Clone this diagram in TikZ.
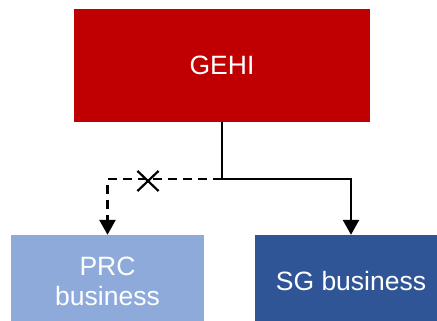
\documentclass[tikz,border=0pt]{standalone}
\usepackage{fontspec}
\setmainfont{Liberation Sans}
\usetikzlibrary{arrows.meta,shapes.misc}
\definecolor{gehired}{HTML}{C00000}
\definecolor{prcblue}{HTML}{8EAADB}
\definecolor{sgblue}{HTML}{2F5597}
\begin{document}
\begin{tikzpicture}[x=1pt,y=-1pt,
  box/.style={draw=none, inner sep=0pt, text=white, font=\fontsize{26.5}{30}\selectfont, align=center},
  conn/.style={line width=2.6pt, -{Triangle[width=16pt,length=15pt]}},
  dashconn/.style={conn, dash pattern=on 9pt off 6pt},
  crossmark/.style={cross out, draw, line width=2.2pt, inner sep=0pt, minimum width=19pt, minimum height=18pt}]
\useasboundingbox (0,0) rectangle (437,321);
\node[box, fill=gehired, minimum width=296pt, minimum height=113pt] (gehi) at (222,65.5) {GEHI};
\node[box, fill=prcblue, minimum width=193pt, minimum height=92pt] (prc) at (107.5,281) {PRC\\business};
\node[box, fill=sgblue, minimum width=192pt, minimum height=92pt] (sg) at (351,281) {SG business};
\coordinate (j) at (222,179);
\draw[dashconn] (j) -| (prc.north);
\draw[conn] (gehi.south) -- (j) -| (sg.north);
\node[crossmark] (x) at (148,181) {};
\end{tikzpicture}
\end{document}
